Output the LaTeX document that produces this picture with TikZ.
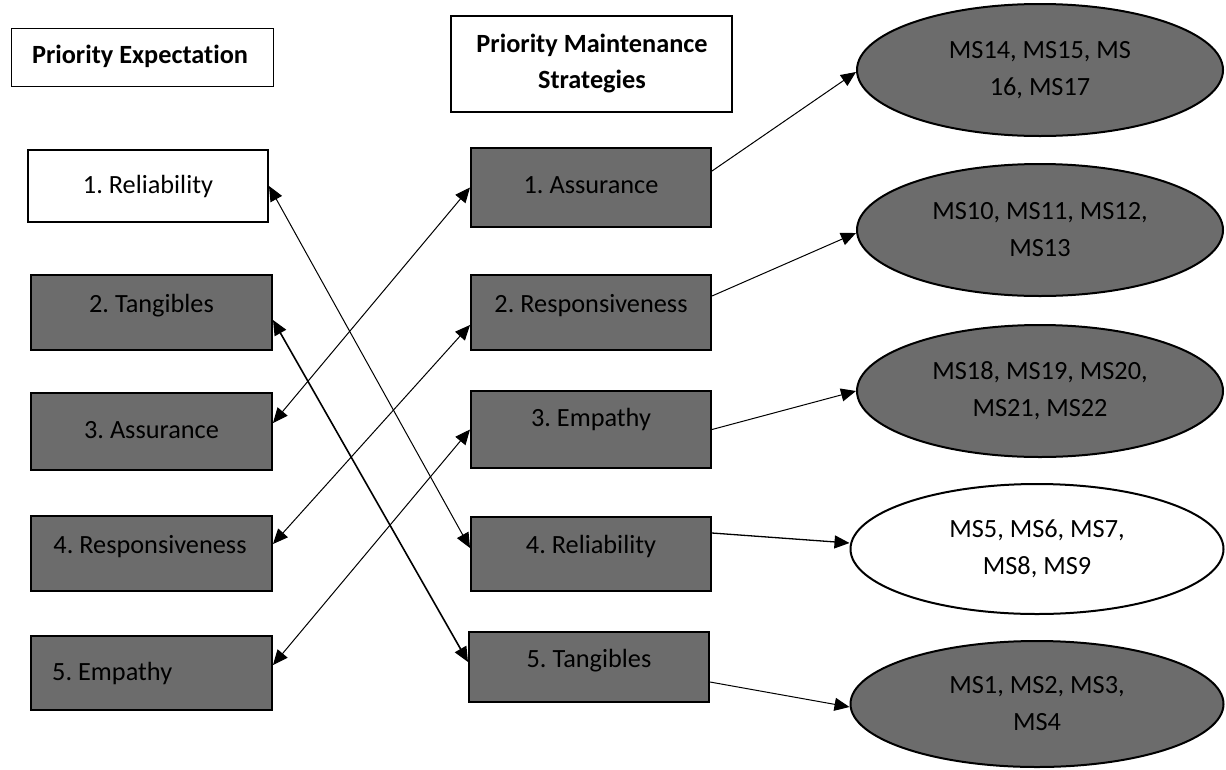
\documentclass[tikz,border=0pt]{standalone}
\usepackage{fontspec}
\setmainfont{Carlito}[Ligatures=NoCommon,RawFeature={-liga;-clig;-calt}]
\usetikzlibrary{arrows.meta,shapes.geometric}
\definecolor{boxgray}{RGB}{108,108,108}
\frenchspacing
\begin{document}
\begin{tikzpicture}[x=1pt,y=-1pt,
  box/.style={draw, line width=2pt, fill=boxgray, inner sep=0pt},
  wbox/.style={draw, line width=1.6pt, fill=white, inner sep=0pt},
  txt/.style={inner sep=0pt, anchor=base, font=\fontsize{26.3}{37}\selectfont},
  ell/.style={draw, ellipse, line width=2pt, fill=boxgray, inner sep=0pt, align=center, font=\fontsize{26.3}{37}\selectfont},
  arr/.style={line width=1pt, -{Triangle[length=15pt,width=13pt]}},
  darr/.style={line width=1pt, {Triangle[length=15pt,width=13pt]}-{Triangle[length=15pt,width=13pt]}}
]
\useasboundingbox (0,0) rectangle (1226,769);
\fill[white] (0,0) rectangle (1226,769);

% titles
\node[wbox, minimum width=262pt, minimum height=58pt] (lt) at (142.5,57.5) {};
\node[txt, font=\fontsize{26.3}{37}\selectfont\bfseries] (ltt) at (140,63) {Priority Expectation};
\node[wbox, minimum width=281pt, minimum height=96pt] (mt) at (591.5,64) {};
\node[txt, font=\fontsize{26.3}{37}\selectfont\bfseries] (mtt1) at (592,52) {Priority Maintenance};
\node[txt, font=\fontsize{26.3}{37}\selectfont\bfseries] (mtt2) at (592,88) {Strategies};

% left column
\node[wbox, line width=2pt, minimum width=240pt, minimum height=72pt] (l1) at (148,186) {};
\node[txt] (l1t) at (148,193) {1. Reliability};
\node[box, minimum width=241pt, minimum height=75pt] (l2) at (151.5,312.5) {};
\node[txt] (l2t) at (151.5,312) {2. Tangibles};
\node[box, minimum width=241pt, minimum height=77pt] (l3) at (151.5,431.5) {};
\node[txt] (l3t) at (151.5,438) {3. Assurance};
\node[box, minimum width=241pt, minimum height=75pt] (l4) at (151.5,553.5) {};
\node[txt] (l4t) at (150,553) {4. Responsiveness};
\node[box, minimum width=241pt, minimum height=74pt] (l5) at (151.5,673) {};
\node[txt, anchor=base west] (l5t) at (52,680) {5. Empathy};

% middle column
\node[box, minimum width=240pt, minimum height=79pt] (m1) at (591,187.5) {};
\node[txt] (m1t) at (591,193) {1. Assurance};
\node[box, minimum width=240pt, minimum height=75pt] (m2) at (591,312.5) {};
\node[txt] (m2t) at (591,312) {2. Responsiveness};
\node[box, minimum width=240pt, minimum height=77pt] (m3) at (591,429.5) {};
\node[txt] (m3t) at (591,426) {3. Empathy};
\node[box, minimum width=240pt, minimum height=74pt] (m4) at (591,554) {};
\node[txt] (m4t) at (591,553) {4. Reliability};
\node[box, minimum width=240pt, minimum height=70pt] (m5) at (589,667) {};
\node[txt] (m5t) at (589,667) {5. Tangibles};

% ellipses
\node[ell, minimum width=366pt, minimum height=132pt] (e1) at (1040,70) {MS14, MS15, MS\\16, MS17};
\node[ell, minimum width=366pt, minimum height=132pt] (e2) at (1040,230) {MS10, MS11, MS12,\\MS13};
\node[ell, minimum width=366pt, minimum height=132pt] (e3) at (1040,391) {MS18, MS19, MS20,\\MS21, MS22};
\node[ell, fill=white, minimum width=373pt, minimum height=130pt] (e4) at (1037,549) {MS5, MS6, MS7,\\MS8, MS9};
\node[ell, minimum width=373pt, minimum height=126pt] (e5) at (1037,704) {MS1, MS2, MS3,\\MS4};

% crossing connectors
\draw[darr] (l1.east) -- ([yshift=6pt]m4.west);
\draw[darr] ([yshift=8.5pt]l3.east) -- (m1.west);
\draw[darr, line width=1.6pt] ([yshift=-7.5pt]l2.east) -- ([yshift=5pt]m5.west);
\draw[darr] ([yshift=9.5pt]l4.east) -- ([yshift=-12.5pt]m2.west);
\draw[darr] ([yshift=8pt]l5.east) -- (m3.west);

% right connectors
\draw[arr] ([yshift=16.5pt]m1.east) -- ([yshift=-2pt]e1.west);
\draw[arr] ([yshift=16.5pt]m2.east) -- ([yshift=-3pt]e2.west);
\draw[arr] (m3.east) -- (e3.west);
\draw[arr, line width=1.3pt] ([yshift=21pt]m4.east) -- ([yshift=6pt]e4.west);
\draw[arr] ([yshift=-15pt]m5.east) -- ([yshift=-3pt]e5.west);
\end{tikzpicture}
\end{document}
